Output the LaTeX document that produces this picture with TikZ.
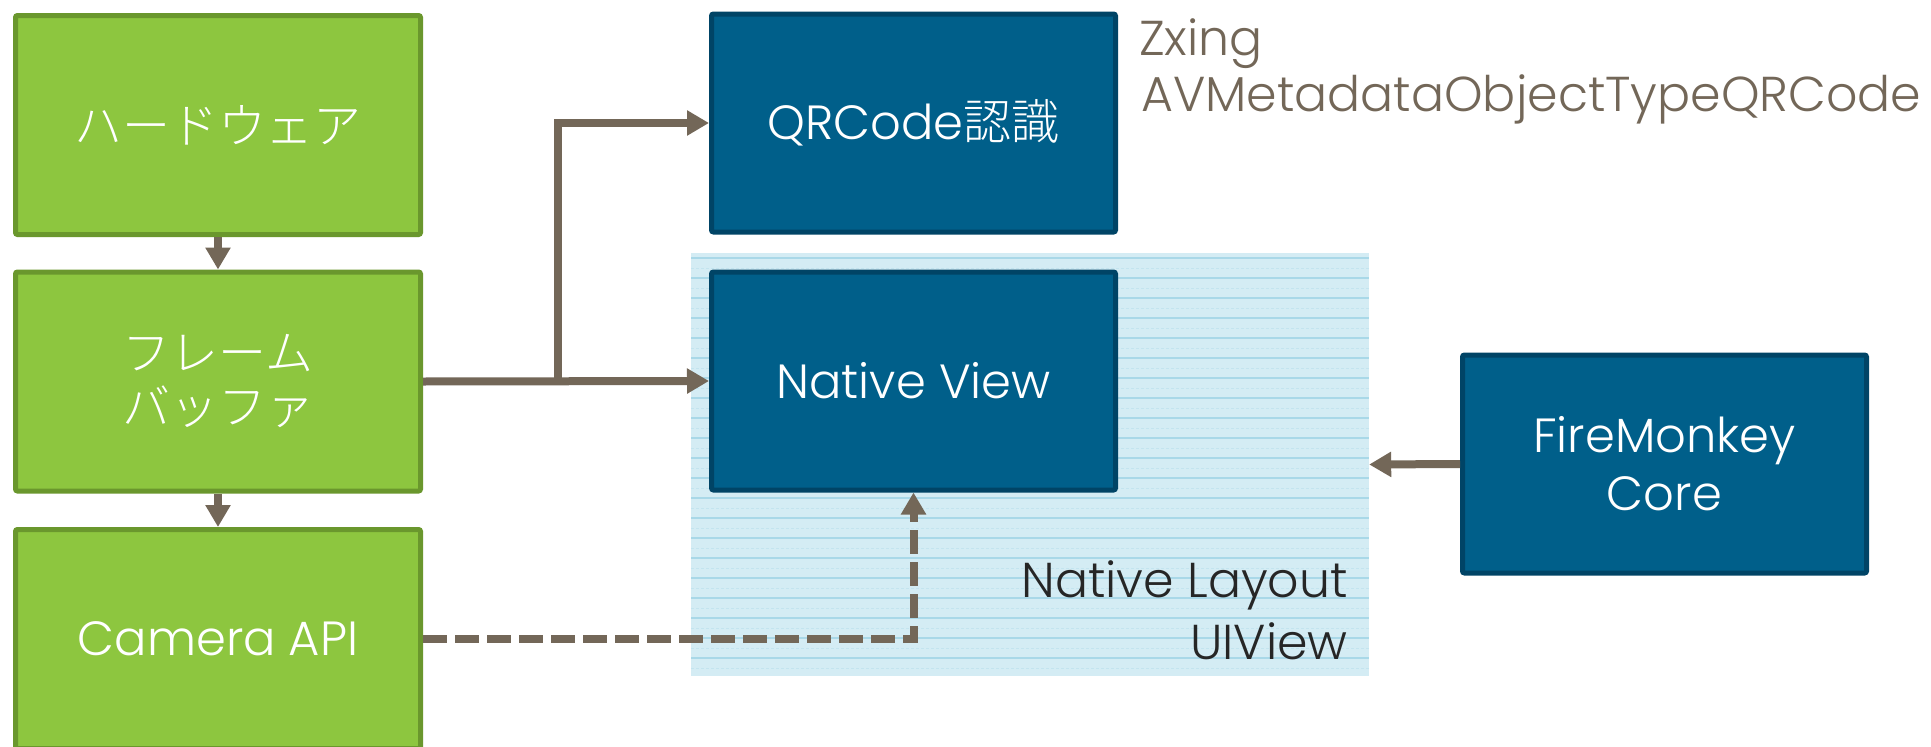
\documentclass[tikz,border=0pt]{standalone}
\usepackage{fontspec}
\setmainfont{Poppins}[UprightFont=* Light]
\newfontfamily\jp{Noto Sans CJK JP}[UprightFont=* Light]
\usetikzlibrary{arrows.meta}
\definecolor{gfill}{HTML}{8DC63F}
\definecolor{gline}{HTML}{6A972D}
\definecolor{bfill}{HTML}{005F8A}
\definecolor{bline}{HTML}{004466}
\definecolor{arrc}{HTML}{736758}
\definecolor{regfill}{HTML}{D4ECF4}
\definecolor{regline}{HTML}{A9D8E8}
\definecolor{darktext}{HTML}{262626}
\tikzset{
  gbox/.style={draw=gline, fill=gfill, line width=5pt, rounded corners=2pt, text=white,
    minimum width=405, minimum height=219, inner sep=0pt, font=\fontsize{48}{56}\selectfont, align=center},
  bbox/.style={draw=bline, fill=bfill, line width=5pt, rounded corners=2pt, text=white,
    minimum width=404, minimum height=218, inner sep=0pt, font=\fontsize{48}{58}\selectfont, align=center},
  arr/.style={draw=arrc, line width=8pt, -{Triangle[length=22pt,width=24pt]}},
  dsh/.style={dash pattern=on 24pt off 8pt},
  note/.style={inner sep=0pt, font=\fontsize{49}{56}\selectfont},
}
\begin{document}
\begin{tikzpicture}[x=1pt,y=-1pt]
\useasboundingbox (0,0) rectangle (1931,747);
\clip (0,0) rectangle (1931,747);
\fill[white] (0,0) rectangle (1931,747);
% region
\node[fill=regfill, minimum width=678, minimum height=423, inner sep=0pt] (reg) at (1030,464.5) {};
\foreach \k in {0,...,41}{
  \pgfmathsetmacro{\yy}{258+10*\k}
  \ifodd\k
    \draw[regline!70, line width=1pt, dash pattern=on 3pt off 2pt] (691,\yy) -- (1369,\yy);
  \else
    \draw[regline, line width=1.2pt] (691,\yy) -- (1369,\yy);
  \fi
}
% green boxes
\node[gbox] (hw) at (218,125) {{\jp ハードウェア}};
\node[gbox] (fb) at (218,381.5) {{\jp フレーム}\\[-2pt]{\jp バッファ}};
\node[gbox] (cam) at (218,639) {Camera API};
% blue boxes
\node[bbox] (qr) at (913.5,123) {QRCode{\jp 認識}};
\node[bbox] (nv) at (913.5,381) {Native View};
\node[bbox] (fm) at (1664.5,464) {FireMonkey\\Core};
% notes
\node[note, text=arrc, anchor=base west] (zx) at (1139,55) {Zxing};
\node[note, text=arrc, anchor=base west] (av) at (1141,111) {AVMetadataObjectTypeQRCode};
\node[note, text=darktext, anchor=base east] (nl) at (1348,597) {Native Layout};
\node[note, text=darktext, anchor=base east] (uv) at (1348,659) {UIView};
% connectors
\draw[arr] (hw.south) -- (fb.north);
\draw[arr] (fb.south) -- (cam.north);
\draw[arr] (fb.east) -- (nv.west);
\coordinate (br) at (558,383);
\draw[arr] (br) |- (qr.west);
\draw[arr, dsh] (cam.east) -| (nv.south);
\draw[arr] (fm.west) -- (reg.east);
\end{tikzpicture}
\end{document}
